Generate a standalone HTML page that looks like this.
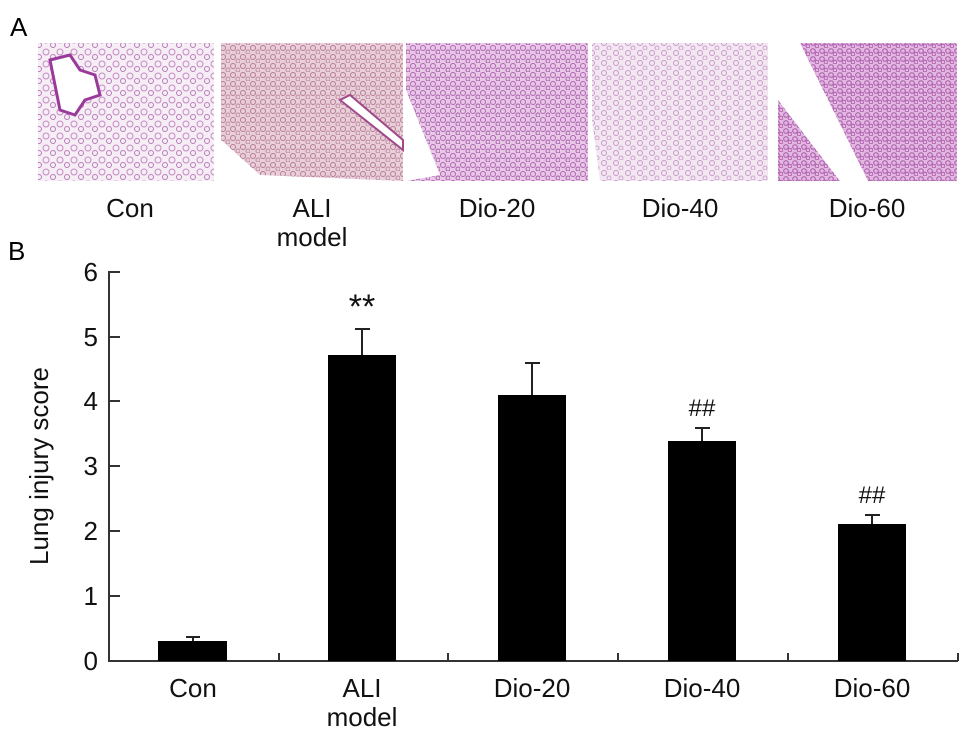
<!DOCTYPE html>
<html><head><style>
body{margin:0;background:#fff;width:969px;height:748px;overflow:hidden;font-family:"Liberation Sans",Arial,sans-serif;}
</style></head><body>
<svg width="969" height="748" xmlns="http://www.w3.org/2000/svg" font-family="Liberation Sans, Arial, sans-serif">
<defs>
<pattern id="t1" width="14" height="12" patternUnits="userSpaceOnUse"><rect width="14" height="12" fill="#f6eef5"/><circle cx="4" cy="4" r="3" fill="none" stroke="#c58ac4" stroke-width="1"/><circle cx="11" cy="9" r="2.5" fill="none" stroke="#b87ab8" stroke-width="1"/></pattern>
<pattern id="t2" width="10" height="9" patternUnits="userSpaceOnUse"><rect width="10" height="9" fill="#e8cfd8"/><circle cx="3" cy="3" r="2.5" fill="none" stroke="#b77a98" stroke-width="1"/><circle cx="8" cy="7" r="2" fill="none" stroke="#c28aa6" stroke-width="1"/></pattern>
<pattern id="t3" width="10" height="9" patternUnits="userSpaceOnUse"><rect width="10" height="9" fill="#e8c8e6"/><circle cx="3" cy="3" r="2.5" fill="none" stroke="#b064b4" stroke-width="1"/><circle cx="8" cy="7" r="2" fill="none" stroke="#a860ac" stroke-width="1"/></pattern>
<pattern id="t4" width="12" height="10" patternUnits="userSpaceOnUse"><rect width="12" height="10" fill="#f3e8f2"/><circle cx="4" cy="3" r="2.5" fill="none" stroke="#c79ac8" stroke-width="1"/><circle cx="9" cy="8" r="2" fill="none" stroke="#cfa2cf" stroke-width="1"/></pattern>
<pattern id="t5" width="9" height="8" patternUnits="userSpaceOnUse"><rect width="9" height="8" fill="#e2b8e0"/><circle cx="3" cy="3" r="2.3" fill="none" stroke="#a858ac" stroke-width="1"/><circle cx="7" cy="6" r="1.8" fill="none" stroke="#b060b0" stroke-width="1"/></pattern>
</defs>
<text x="10" y="36" font-size="26">A</text>
<rect x="38" y="43" width="176" height="138" fill="url(#t1)"/>
<path d="M50 60 L70 55 L80 70 L95 75 L100 95 L85 100 L75 115 L60 110 Z" fill="#fff" stroke="#9a3a9a" stroke-width="3"/>
<rect x="221" y="43" width="182" height="138" fill="url(#t2)"/>
<path d="M221 140 L260 175 L403 181 L221 181 Z" fill="#fff"/>
<path d="M340 100 L403 150 L403 140 L350 95 Z" fill="#fff" stroke="#a04a8a" stroke-width="2"/>
<rect x="406" y="43" width="182" height="138" fill="url(#t3)"/>
<path d="M406 90 L440 175 L406 181 Z" fill="#fff"/>
<rect x="592" y="43" width="176" height="138" fill="url(#t4)"/>
<path d="M592 120 L600 181 L592 181 Z" fill="#fff"/>
<rect x="778" y="43" width="179" height="138" fill="url(#t5)"/>
<path d="M778 43 L800 43 L868 181 L840 181 L778 100 Z" fill="#fff"/>
<g font-size="26" text-anchor="middle" fill="#111">
<text x="130" y="217">Con</text>
<text x="312" y="217">ALI</text>
<text x="312" y="246">model</text>
<text x="497" y="217">Dio-20</text>
<text x="680" y="217">Dio-40</text>
<text x="867" y="217">Dio-60</text>
</g>
<text x="8" y="260" font-size="26">B</text>
<g stroke="#333" stroke-width="2" fill="none">
<path d="M120 272 L109 272 L109 661 L958 661"/>
<path d="M109 337 H120 M109 401 H120 M109 466 H120 M109 531 H120 M109 596 H120"/>
<path d="M279 661 V653 M448 661 V653 M618 661 V653 M788 661 V653 M958 661 V653"/>
</g>
<g font-size="26" text-anchor="end" fill="#111">
<text x="98" y="281">6</text><text x="98" y="346">5</text><text x="98" y="410">4</text><text x="98" y="475">3</text><text x="98" y="540">2</text><text x="98" y="605">1</text><text x="98" y="670">0</text>
</g>
<text transform="translate(48,466) rotate(-90)" font-size="26" text-anchor="middle" fill="#111">Lung injury score</text>
<g fill="#000">
<rect x="158" y="641" width="69" height="20"/>
<rect x="328" y="355" width="68" height="306"/>
<rect x="498" y="395" width="68" height="266"/>
<rect x="668" y="441" width="68" height="220"/>
<rect x="838" y="524" width="68" height="137"/>
</g>
<g stroke="#222" stroke-width="2">
<path d="M193 641 V637 M186 637 H200"/>
<path d="M362 355 V329 M355 329 H370"/>
<path d="M532 395 V363 M525 363 H540"/>
<path d="M702 441 V428 M695 428 H710"/>
<path d="M872 524 V515 M865 515 H880"/>
</g>
<g font-size="26" text-anchor="middle" fill="#111">
<text x="362" y="318" font-size="34">**</text>
<text x="702" y="416" font-size="24">##</text>
<text x="872" y="503" font-size="24">##</text>
<text x="193" y="697">Con</text>
<text x="362" y="697">ALI</text>
<text x="362" y="726">model</text>
<text x="532" y="697">Dio-20</text>
<text x="702" y="697">Dio-40</text>
<text x="872" y="697">Dio-60</text>
</g>
</svg>
</body></html>
